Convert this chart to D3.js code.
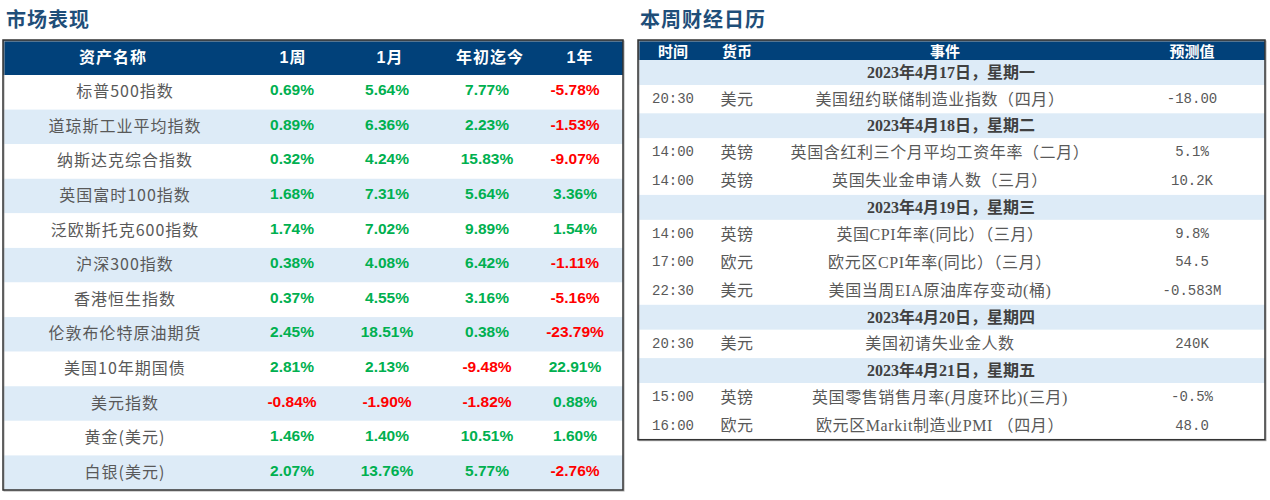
<!DOCTYPE html>
<html>
<head>
<meta charset="utf-8">
<script src="https://cdn.jsdelivr.net/npm/d3@7"></script>
<style>
  body { margin: 0; background: #fff; }
  svg { display: block; }
</style>
</head>
<body>
<svg id="chart" width="1270" height="500"></svg>
<script>
// market performance table
const assetNames = ["标普500指数", "道琼斯工业平均指数", "纳斯达克综合指数", "英国富时100指数",
  "泛欧斯托克600指数", "沪深300指数", "香港恒生指数", "伦敦布伦特原油期货",
  "美国10年期国债", "美元指数", "黄金(美元)", "白银(美元)"];
const perfHeaders = ["资产名称", "1周", "1月", "年初迄今", "1年"];
const week1 = [0.69, 0.89, 0.32, 1.68, 1.74, 0.38, 0.37, 2.45, 2.81, -0.84, 1.46, 2.07];
const month1 = [5.64, 6.36, 4.24, 7.31, 7.02, 4.08, 4.55, 18.51, 2.13, -1.90, 1.40, 13.76];
const ytd = [7.77, 2.23, 15.83, 5.64, 9.89, 6.42, 3.16, 0.38, -9.48, -1.82, 10.51, 5.77];
const year1 = [-5.78, -1.53, -9.07, 3.36, 1.54, -1.11, -5.16, -23.79, 22.91, 0.88, 1.60, -2.76];

// weekly calendar
const calHeaders = ["时间", "货币", "事件", "预测值"];
const calDays = ["2023年4月17日，星期一", "2023年4月18日，星期二", "2023年4月19日，星期三",
  "2023年4月20日，星期四", "2023年4月21日，星期五"];
const evDay = [0, 1, 1, 2, 2, 2, 3, 4, 4];
const evTime = ["20:30", "14:00", "14:00", "14:00", "17:00", "22:30", "20:30", "15:00", "16:00"];
const evCur = ["美元", "英镑", "英镑", "英镑", "欧元", "美元", "美元", "英镑", "欧元"];
const evName = ["美国纽约联储制造业指数（四月）", "英国含红利三个月平均工资年率（二月）",
  "英国失业金申请人数（三月）", "英国CPI年率(同比）（三月）", "欧元区CPI年率(同比）（三月）",
  "美国当周EIA原油库存变动(桶)", "美国初请失业金人数", "英国零售销售月率(月度环比)(三月)",
  "欧元区Markit制造业PMI （四月）"];
const evFcst = ["-18.00", "5.1%", "10.2K", "9.8%", "54.5", "-0.583M", "240K", "-0.5%", "48.0"];

const HEAD = "#01417A", STRIPE = "#DDEBF7", GREEN = "#00B050", RED = "#FF0000";
const TITLE = "#1F4E79", GREY = "#595959";
const CJK = "'Noto Sans CJK SC', 'Noto Sans', sans-serif";
const SERIF = "'Liberation Serif', 'Noto Sans CJK SC', serif";
const MONO = "'Liberation Mono', 'DejaVu Sans Mono', monospace";

const svg = d3.select("#chart");

// ---------- left table ----------
const L = { x0: 3, x1: 623, top: 40, head: 35, bottom: 490 };
const left = svg.append("g");

left.append("text")
  .attr("x", 6).attr("y", 18)
  .attr("dominant-baseline", "central")
  .style("font-family", CJK).style("font-weight", 700)
  .style("font-size", "20px").style("letter-spacing", "1px")
  .attr("fill", TITLE)
  .text("市场表现");

const rowY = d3.scaleBand()
  .domain(d3.range(assetNames.length))
  .range([L.top + L.head, L.bottom]);

const colX = d3.scaleOrdinal()
  .domain(perfHeaders)
  .range([125, 292, 387, 487, 575]);
const headX = d3.scaleOrdinal()
  .domain(perfHeaders)
  .range([113, 293, 390, 490, 580]);

left.append("rect")
  .attr("x", L.x0).attr("y", L.top)
  .attr("width", L.x1 - L.x0).attr("height", L.head)
  .attr("fill", HEAD);

left.selectAll("text.head")
  .data(perfHeaders)
  .enter().append("text")
  .attr("class", "head")
  .attr("x", d => headX(d))
  .attr("y", L.top + L.head / 2)
  .attr("text-anchor", "middle")
  .attr("dominant-baseline", "central")
  .style("font-family", "'Liberation Sans', " + CJK)
  .style("font-weight", 700).style("font-size", "16px")
  .style("letter-spacing", "1px")
  .attr("fill", "#fff")
  .text(d => d);

const perfRows = left.selectAll("g.row")
  .data(assetNames.map((name, i) => ({ name, i, vals: [week1[i], month1[i], ytd[i], year1[i]] })))
  .enter().append("g")
  .attr("class", "row")
  .attr("transform", d => `translate(0,${rowY(d.i)})`);

perfRows.append("rect")
  .attr("x", L.x0).attr("width", L.x1 - L.x0)
  .attr("height", rowY.bandwidth())
  .attr("fill", d => d.i % 2 ? STRIPE : "#fff");

// text sits a little above the middle of each row
perfRows.append("text")
  .attr("x", colX("资产名称"))
  .attr("y", rowY.bandwidth() / 2 - 2)
  .attr("text-anchor", "middle")
  .attr("dominant-baseline", "central")
  .style("font-family", CJK).style("font-size", "16px")
  .style("letter-spacing", "1px")
  .attr("fill", GREY)
  .text(d => d.name);

const fmt = d3.format(".2f");
perfRows.selectAll("text.val")
  .data(d => d.vals)
  .enter().append("text")
  .attr("class", "val")
  .attr("x", (v, j) => colX(perfHeaders[j + 1]))
  .attr("y", rowY.bandwidth() / 2 - 2.5)
  .attr("text-anchor", "middle")
  .attr("dominant-baseline", "central")
  .style("font-family", "'Liberation Sans', Arial, sans-serif")
  .style("font-weight", 700).style("font-size", "15.5px")
  .attr("fill", v => v < 0 ? RED : GREEN)
  .text(v => (v < 0 ? "-" : "") + fmt(Math.abs(v)) + "%");

left.append("rect")
  .attr("x", L.x0 + 1).attr("y", L.top + 1)
  .attr("width", L.x1 - L.x0).attr("height", L.bottom - L.top)
  .attr("fill", "none").attr("stroke", "#aaa").attr("stroke-width", 1);
left.append("rect")
  .attr("x", L.x0).attr("y", L.top)
  .attr("width", L.x1 - L.x0).attr("height", L.bottom - L.top)
  .attr("fill", "none").attr("stroke", "#333").attr("stroke-width", 1.5);

// ---------- right table ----------
const R = { x0: 638, x1: 1265, top: 40, head: 20, dayH: 25, evH: 28.3 };
const right = svg.append("g");

right.append("text")
  .attr("x", 640).attr("y", 18)
  .attr("dominant-baseline", "central")
  .style("font-family", CJK).style("font-weight", 700)
  .style("font-size", "20px").style("letter-spacing", "1px")
  .attr("fill", TITLE)
  .text("本周财经日历");

// sequence of rows: date row followed by that day's events
const calRows = [];
calDays.forEach((day, di) => {
  calRows.push({ type: "day", label: day });
  evDay.forEach((d, k) => { if (d === di) calRows.push({ type: "ev", k }); });
});
let yAcc = R.top + R.head;
calRows.forEach(r => {
  r.h = r.type === "day" ? R.dayH : R.evH;
  r.y = yAcc;
  yAcc += r.h;
});
const R_bottom = yAcc;

const calX = d3.scaleOrdinal()
  .domain(calHeaders)
  .range([673, 737, 945, 1192]);

right.append("rect")
  .attr("x", R.x0).attr("y", R.top)
  .attr("width", R.x1 - R.x0).attr("height", R.head)
  .attr("fill", HEAD);

right.selectAll("text.head")
  .data(calHeaders)
  .enter().append("text")
  .attr("class", "head")
  .attr("x", d => calX(d))
  .attr("y", R.top + R.head / 2)
  .attr("text-anchor", "middle")
  .attr("dominant-baseline", "central")
  .style("font-family", CJK).style("font-weight", 700)
  .style("font-size", "15px")
  .attr("fill", "#fff")
  .text(d => d);

const cr = right.selectAll("g.crow")
  .data(calRows)
  .enter().append("g")
  .attr("class", "crow")
  .attr("transform", d => `translate(0,${d.y})`);

cr.append("rect")
  .attr("x", R.x0).attr("width", R.x1 - R.x0)
  .attr("height", d => d.h)
  .attr("fill", d => d.type === "day" ? STRIPE : "#fff");

cr.filter(d => d.type === "day").append("text")
  .attr("x", 951)
  .attr("y", d => d.h / 2)
  .attr("text-anchor", "middle")
  .attr("dominant-baseline", "central")
  .style("font-family", SERIF).style("font-weight", 700)
  .style("font-size", "16px")
  .attr("fill", "#404040")
  .text(d => d.label);

const ev = cr.filter(d => d.type === "ev");
ev.append("text")
  .attr("x", calX("时间")).attr("y", d => d.h / 2)
  .attr("text-anchor", "middle").attr("dominant-baseline", "central")
  .style("font-family", MONO).style("font-size", "14px")
  .attr("fill", GREY)
  .text(d => evTime[d.k]);
ev.append("text")
  .attr("x", calX("货币")).attr("y", d => d.h / 2)
  .attr("text-anchor", "middle").attr("dominant-baseline", "central")
  .style("font-family", SERIF).style("font-size", "16px")
  .style("letter-spacing", "0.5px")
  .attr("fill", GREY)
  .text(d => evCur[d.k]);
ev.append("text")
  .attr("x", 940).attr("y", d => d.h / 2)
  .attr("text-anchor", "middle").attr("dominant-baseline", "central")
  .style("font-family", SERIF).style("font-size", "16px")
  .style("letter-spacing", "0.6px")
  .attr("fill", GREY)
  .text(d => evName[d.k]);
ev.append("text")
  .attr("x", calX("预测值")).attr("y", d => d.h / 2)
  .attr("text-anchor", "middle").attr("dominant-baseline", "central")
  .style("font-family", MONO).style("font-size", "14px")
  .attr("fill", GREY)
  .text(d => evFcst[d.k]);

right.append("rect")
  .attr("x", R.x0 + 1).attr("y", R.top + 1)
  .attr("width", R.x1 - R.x0).attr("height", R_bottom - R.top)
  .attr("fill", "none").attr("stroke", "#aaa").attr("stroke-width", 1);
right.append("rect")
  .attr("x", R.x0).attr("y", R.top)
  .attr("width", R.x1 - R.x0).attr("height", R_bottom - R.top)
  .attr("fill", "none").attr("stroke", "#333").attr("stroke-width", 1.5);
</script>
</body>
</html>
